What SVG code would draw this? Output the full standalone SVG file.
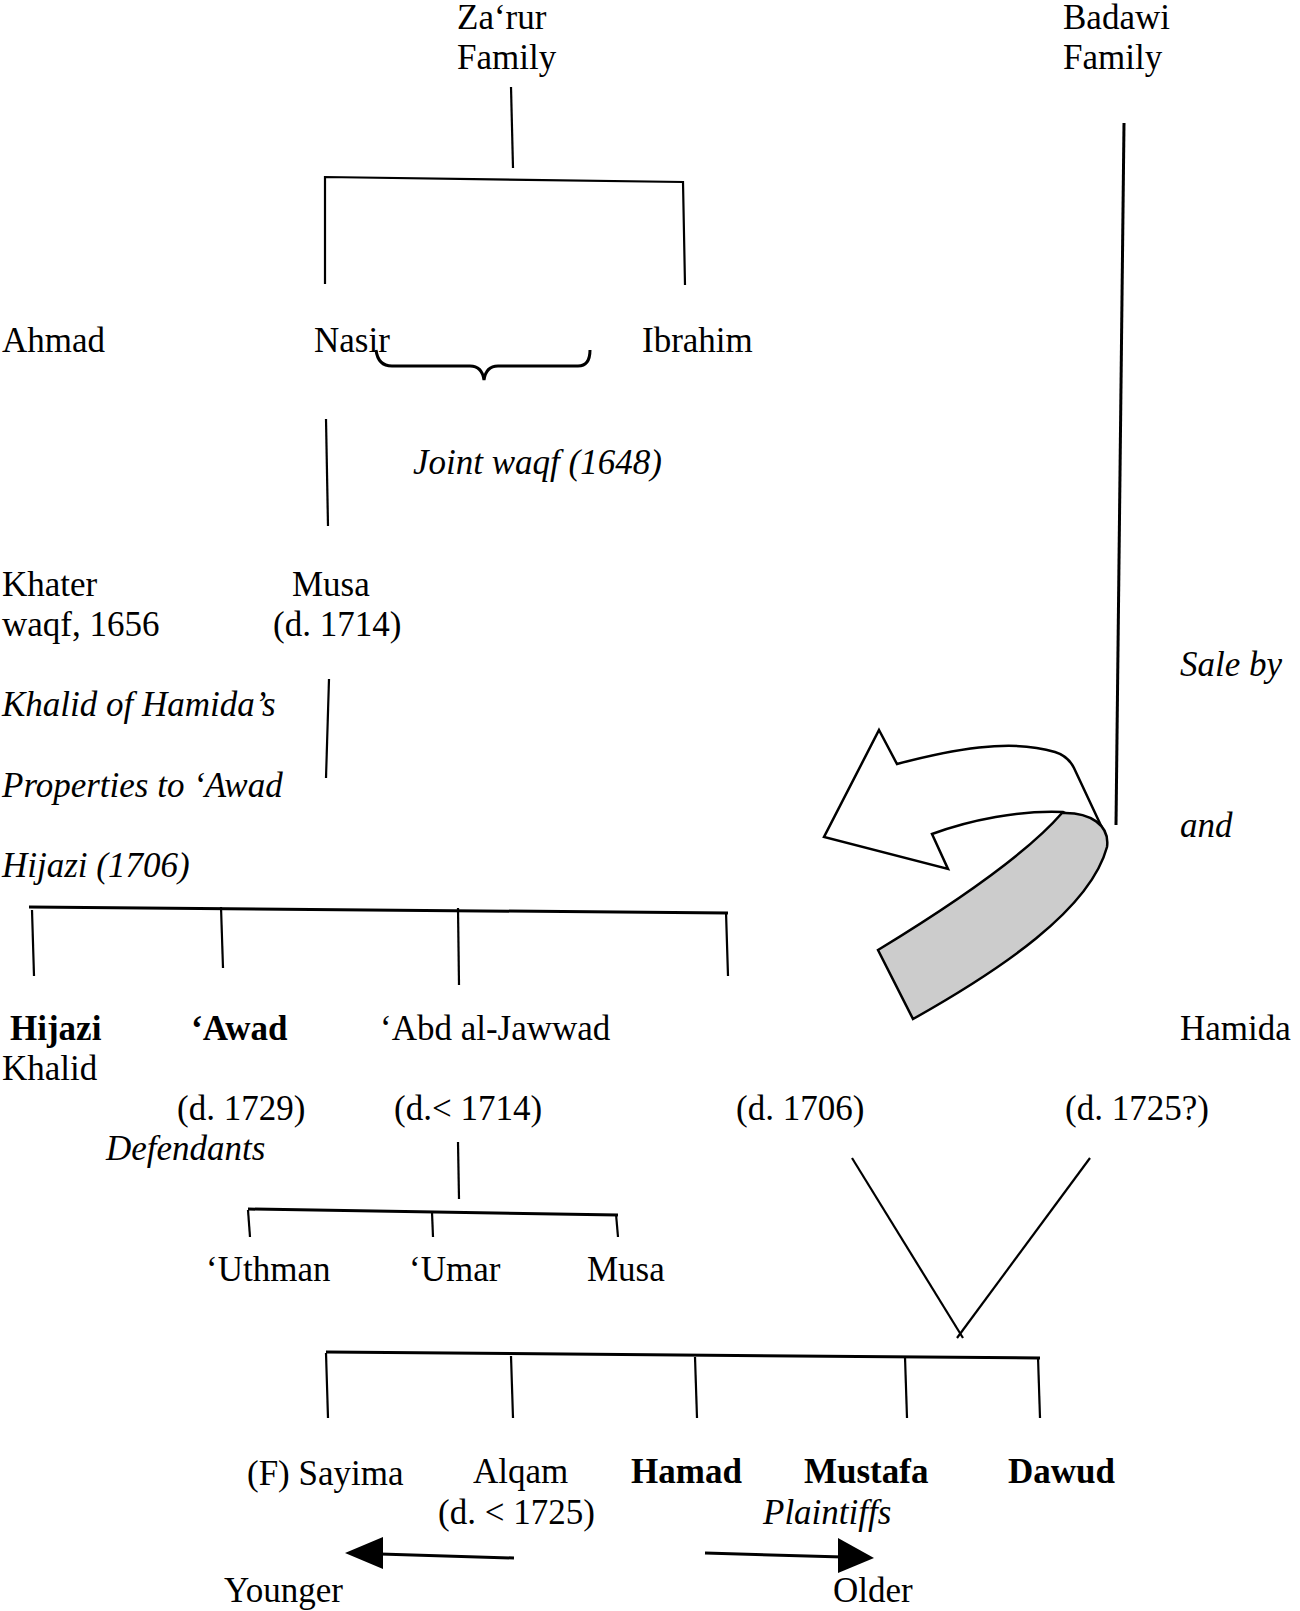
<svg xmlns="http://www.w3.org/2000/svg" width="1300" height="1611" viewBox="0 0 1300 1611">
<style>
text{font-family:"Liberation Serif","Times New Roman",serif;font-size:35px;fill:#000}
.i{font-style:italic}
.b{font-weight:bold}
.ln{stroke:#000;stroke-width:2.2;fill:none;stroke-linecap:butt}
.bar{stroke:#000;stroke-width:3;fill:none}
</style>
<rect width="1300" height="1611" fill="#fff"/>
<g id="connectors">
<line class="ln" x1="511" y1="87" x2="513" y2="168"/>
<polyline class="ln" points="325,284 325,177 683,182 685,285"/>
<path class="bar" d="M376,350 Q378,366 392,366 L470,366 Q482,366 484,380 Q486,366 498,366 L578,366 Q590,366 590,350"/>
<line class="ln" x1="326" y1="419" x2="328" y2="526"/>
<line class="ln" x1="329" y1="679" x2="326" y2="778"/>
<line class="bar" x1="29" y1="907" x2="728" y2="913"/>
<line class="ln" x1="32" y1="910" x2="34" y2="976"/>
<line class="ln" x1="221" y1="907" x2="223" y2="968"/>
<line class="ln" x1="458" y1="908" x2="459" y2="985"/>
<line class="ln" x1="726" y1="912" x2="728" y2="976"/>
<line class="ln" x1="458" y1="1142" x2="459" y2="1199"/>
<line class="bar" x1="248" y1="1209" x2="618" y2="1215"/>
<line class="ln" x1="248" y1="1210" x2="250" y2="1237"/>
<line class="ln" x1="432" y1="1212" x2="433" y2="1237"/>
<line class="ln" x1="616" y1="1214" x2="618" y2="1237"/>
<line class="ln" x1="852" y1="1158" x2="963" y2="1338"/>
<line class="ln" x1="1090" y1="1158" x2="957" y2="1338"/>
<line class="bar" x1="326" y1="1352" x2="1040" y2="1358"/>
<line class="ln" x1="326" y1="1353" x2="328" y2="1418"/>
<line class="ln" x1="511" y1="1356" x2="513" y2="1418"/>
<line class="ln" x1="695" y1="1357" x2="697" y2="1418"/>
<line class="ln" x1="905" y1="1357" x2="907" y2="1418"/>
<line class="ln" x1="1038" y1="1357" x2="1040" y2="1418"/>
<line class="bar" x1="1124" y1="123" x2="1116" y2="825"/>
<line class="bar" x1="514" y1="1558" x2="380" y2="1554"/>
<polygon points="345,1553 383,1537 383,1569" fill="#000"/>
<line class="bar" x1="705" y1="1553" x2="843" y2="1557"/>
<polygon points="874,1558 838,1538 838,1573" fill="#000"/>
<path d="M879,730 L897,764 C950,750 1010,738 1055,752 Q1068,756 1074,768 L1104,832 L1063,812 C1020,810 970,820 932,834 L948,869 L824,837 Z" fill="#fff" stroke="#000" stroke-width="2.5" stroke-linejoin="miter"/>
<path d="M1062,813 C1030,850 960,900 878,950 L913,1019 C1000,970 1090,910 1107,847 C1110,825 1090,812 1062,813 Z" fill="#cccccc" stroke="#000" stroke-width="2.5"/>
</g>
<g id="zarur"><text x="457" y="29">Za‘rur</text><text x="457" y="69">Family</text></g>
<g id="badawi"><text x="1063" y="29">Badawi</text><text x="1063" y="69">Family</text></g>
<g id="ahmad"><text x="2" y="352">Ahmad</text></g>
<g id="nasir"><text x="314" y="352">Nasir</text></g>
<g id="ibrahim"><text x="642" y="352">Ibrahim</text></g>
<g id="joint-waqf"><text class="i" x="413" y="474">Joint waqf (1648)</text></g>
<g id="khater"><text x="2" y="596">Khater</text><text x="2" y="636">waqf, 1656</text></g>
<g id="musa"><text x="292" y="596">Musa</text><text x="273" y="636">(d. 1714)</text></g>
<g id="sale-note"><text class="i" x="1180" y="676">Sale by</text><text class="i" x="1180" y="837">and</text></g>
<g id="khalid-note"><text class="i" x="2" y="716">Khalid of Hamida’s</text><text class="i" x="2" y="797">Properties to  ‘Awad</text><text class="i" x="2" y="877">Hijazi (1706)</text></g>
<g id="hijazi"><text class="b" x="10" y="1040">Hijazi</text></g>
<g id="khalid"><text x="2" y="1080">Khalid</text></g>
<g id="awad"><text class="b" x="191" y="1040">‘Awad</text><text x="177" y="1120">(d. 1729)</text></g>
<g id="defendants"><text class="i" x="106" y="1160">Defendants</text></g>
<g id="abd-al-jawwad"><text x="380" y="1040">‘Abd al-Jawwad</text><text x="394" y="1120">(d.&lt; 1714)</text></g>
<g id="d1706"><text x="736" y="1120">(d. 1706)</text></g>
<g id="hamida"><text x="1180" y="1040">Hamida</text><text x="1065" y="1120">(d. 1725?)</text></g>
<g id="uthman"><text x="206" y="1281">‘Uthman</text></g>
<g id="umar"><text x="409" y="1281">‘Umar</text></g>
<g id="musa2"><text x="587" y="1281">Musa</text></g>
<g id="sayima"><text x="247" y="1485">(F) Sayima</text></g>
<g id="alqam"><text x="473" y="1483">Alqam</text><text x="438" y="1524">(d. &lt; 1725)</text></g>
<g id="hamad"><text class="b" x="631" y="1483">Hamad</text></g>
<g id="mustafa"><text class="b" x="804" y="1483">Mustafa</text></g>
<g id="dawud"><text class="b" x="1008" y="1483">Dawud</text></g>
<g id="plaintiffs"><text class="i" x="763" y="1524">Plaintiffs</text></g>
<g id="younger"><text x="224" y="1602">Younger</text></g>
<g id="older"><text x="833" y="1602">Older</text></g>
</svg>
